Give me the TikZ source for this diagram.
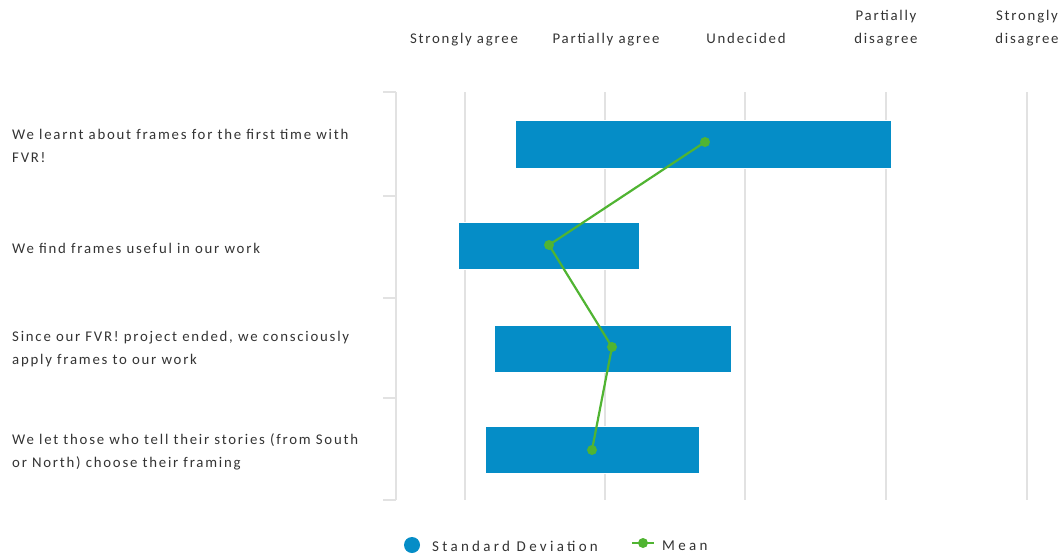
\documentclass[tikz,border=0pt]{standalone}
\usepackage{fontspec}
\setmainfont{Carlito}[LetterSpace=12]
\newfontfamily\legfont{Carlito}[LetterSpace=22]
\definecolor{sdblue}{HTML}{058DC7}
\definecolor{mgreen}{HTML}{50B432}
\definecolor{gridc}{HTML}{E2E2E2}
\definecolor{txt}{HTML}{333333}
\begin{document}
\begin{tikzpicture}[x=1pt,y=-1pt,
  lbl/.style={font=\fontsize{14.8}{23}\selectfont,text=txt,inner sep=0pt},
  cat/.style={lbl,anchor=west,align=left},
  head/.style={lbl,anchor=center,align=center},
  grid/.style={draw=gridc,line width=1.2pt},
  bar/.style={fill=sdblue,draw=white,line width=0.6pt},
  mean/.style={draw=mgreen,line width=2.2pt},
  dot/.style={circle,fill=mgreen,minimum size=10pt,inner sep=0pt}]
\useasboundingbox (0,0) rectangle (1062,559);
% grid lines
\foreach \gx in {465,605,745,886,1027} \draw[grid] (\gx,92) -- (\gx,500);
% axis with ticks
\draw[grid] (396,92) -- (396,500);
\foreach \ty in {92,196,298,398,500} \draw[grid] (383,\ty) -- (396,\ty);
% headers
\node[head] (h1) at (464,40) {Strongly agree};
\node[head] (h2) at (606,40) {Partially agree};
\node[head] (h3) at (746,38.5) {Undecided};
\node[head] (h4) at (886,28.5) {Partially\\disagree};
\node[head] (h5) at (1027,28.5) {Strongly\\disagree};
% categories
\node[cat] (c1) at (12,146) {We learnt about frames for the first time with\\FVR!};
\node[cat] (c2) at (12,248) {We find frames useful in our work};
\node[cat] (c3) at (12,349) {Since our FVR! project ended, we consciously\\apply frames to our work};
\node[cat] (c4) at (12,452) {We let those who tell their stories (from South\\or North) choose their framing};
% bars
\fill[bar] (515,120) rectangle (891,168);
\fill[bar] (458,222) rectangle (639,269);
\fill[bar] (494,325) rectangle (731,372);
\fill[bar] (485,426) rectangle (699,473);
% mean
\node[dot] (m1) at (705,142) {};
\node[dot] (m2) at (549,245) {};
\node[dot] (m3) at (612,347) {};
\node[dot] (m4) at (592,450) {};
\draw[mean] (m1.center) -- (m2.center) -- (m3.center) -- (m4.center);
% legend
\node[circle,fill=sdblue,minimum size=16pt,inner sep=0pt] (l1) at (412,545) {};
\node[lbl,anchor=west,font=\fontsize{15}{18}\legfont] (l1t) at (432,546) {Standard Deviation};
\coordinate (l2a) at (632,543);
\coordinate (l2b) at (654,543);
\draw[mean] (l2a) -- (l2b);
\node[dot] (l2) at (643,543) {};
\node[lbl,anchor=west,font=\fontsize{15}{18}\legfont] (l2t) at (662,546) {Mean};
\end{tikzpicture}
\end{document}
